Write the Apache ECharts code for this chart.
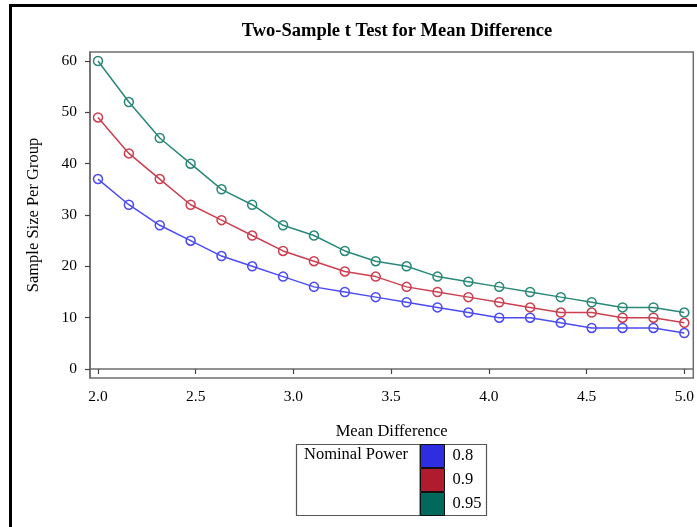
<!DOCTYPE html>
<html>
<head>
<meta charset="utf-8">
<script src="https://cdn.jsdelivr.net/npm/echarts@6/dist/echarts.min.js"></script>
<style>
html,body{margin:0;padding:0;background:#fff;}
#chart{width:697px;height:527px;}
</style>
</head>
<body>
<div id="chart"></div>
<script>
const meanDiff = [2.000, 2.158, 2.316, 2.474, 2.632, 2.789, 2.947, 3.105, 3.263, 3.421,
                  3.579, 3.737, 3.895, 4.053, 4.211, 4.368, 4.526, 4.684, 4.842, 5.000];
const power08  = [37, 32, 28, 25, 22, 20, 18, 16, 15, 14, 13, 12, 11, 10, 10, 9, 8, 8, 8, 7];
const power09  = [49, 42, 37, 32, 29, 26, 23, 21, 19, 18, 16, 15, 14, 13, 12, 11, 11, 10, 10, 9];
const power095 = [60, 52, 45, 40, 35, 32, 28, 26, 23, 21, 20, 18, 17, 16, 15, 14, 13, 12, 12, 11];
const seriesNames = ['0.8', '0.9', '0.95'];
const xTicks = [2.0, 2.5, 3.0, 3.5, 4.0, 4.5, 5.0];
const yTicks = [0, 10, 20, 30, 40, 50, 60];

const lineColors = ['#4B4BF0', '#CC3F50', '#2A8878'];
const swatchColors = ['#2E2EE0', '#B01C2E', '#00695C'];
const FONT = '"Liberation Serif", "DejaVu Serif", serif';

const seriesData = [power08, power09, power095];
const chart = echarts.init(document.getElementById('chart'), null, {renderer: 'canvas'});

const option = {
  backgroundColor: '#ffffff',
  animation: false,
  title: {
    text: 'Two-Sample t Test for Mean Difference',
    left: 392, top: 17, textAlign: 'center',
    textStyle: {fontFamily: FONT, fontSize: 18.5, fontWeight: 'bold', color: '#000'}
  },
  grid: {
    left: 90, top: 52, width: 604, height: 326,
    show: true, borderColor: '#6e6e6e', borderWidth: 1.5, backgroundColor: 'transparent'
  },
  xAxis: {
    type: 'value',
    min: 1.9591, max: 5.046,
    name: 'Mean Difference', nameLocation: 'middle', nameGap: 45,
    nameTextStyle: {fontFamily: FONT, fontSize: 16.5, color: '#000'},
    axisLine: {show: true, lineStyle: {color: '#6e6e6e', width: 1.5}},
    axisTick: {show: true, length: 5, inside: false, customValues: xTicks, lineStyle: {color: '#444', width: 1.2}},
    axisLabel: {customValues: xTicks, margin: 11, fontFamily: FONT, fontSize: 15.5, color: '#000',
                formatter: v => Number(v).toFixed(1)},
    splitLine: {show: false}
  },
  yAxis: {
    type: 'value',
    min: -1.753, max: 61.753,
    name: 'Sample Size Per Group', nameLocation: 'middle', nameGap: 48, nameRotate: 90,
    nameTextStyle: {fontFamily: FONT, fontSize: 16.5, color: '#000'},
    axisLine: {show: true, lineStyle: {color: '#6e6e6e', width: 1.5}},
    axisTick: {show: true, length: 5, inside: false, customValues: yTicks, lineStyle: {color: '#444', width: 1.2}},
    axisLabel: {customValues: yTicks, margin: 13, fontFamily: FONT, fontSize: 15.5, color: '#000'},
    splitLine: {show: false}
  },
  legend: {
    orient: 'vertical',
    left: 420, top: 444,
    itemWidth: 24, itemHeight: 23, itemGap: 0,
    icon: 'rect',
    padding: 0,
    selectedMode: false,
    textStyle: {fontFamily: FONT, fontSize: 16.5, color: '#000', padding: [0, 0, 0, 3]},
    data: seriesNames.map((n, i) => ({
      name: n,
      itemStyle: {color: swatchColors[i], borderColor: '#111', borderWidth: 1}
    }))
  },
  graphic: [
    {type: 'line', shape: {x1: 10.5, y1: 4, x2: 10.5, y2: 527}, style: {stroke: '#000', lineWidth: 3}},
    {type: 'line', shape: {x1: 9, y1: 5.5, x2: 697, y2: 5.5}, style: {stroke: '#000', lineWidth: 3}},
    {type: 'rect', shape: {x: 296.5, y: 444.5, width: 190, height: 71}, style: {fill: 'none', stroke: '#555', lineWidth: 1.2}, z: -1},
    {type: 'line', shape: {x1: 420, y1: 444.5, x2: 420, y2: 515.5}, style: {stroke: '#555', lineWidth: 1.2}},
    {type: 'text', left: 304, top: 446, style: {text: 'Nominal Power', font: '16.5px ' + FONT, fill: '#000'}}
  ],
  series: seriesNames.map((n, i) => ({
    name: n,
    type: 'line',
    data: meanDiff.map((x, j) => [x, seriesData[i][j]]),
    symbol: 'circle',
    symbolSize: 9,
    color: lineColors[i],
    lineStyle: {color: lineColors[i], width: 1.5},
    itemStyle: {color: 'rgba(255,255,255,0)', borderColor: lineColors[i], borderWidth: 1.5},
    emphasis: {disabled: true}
  }))
};
chart.setOption(option);
</script>
</body>
</html>
